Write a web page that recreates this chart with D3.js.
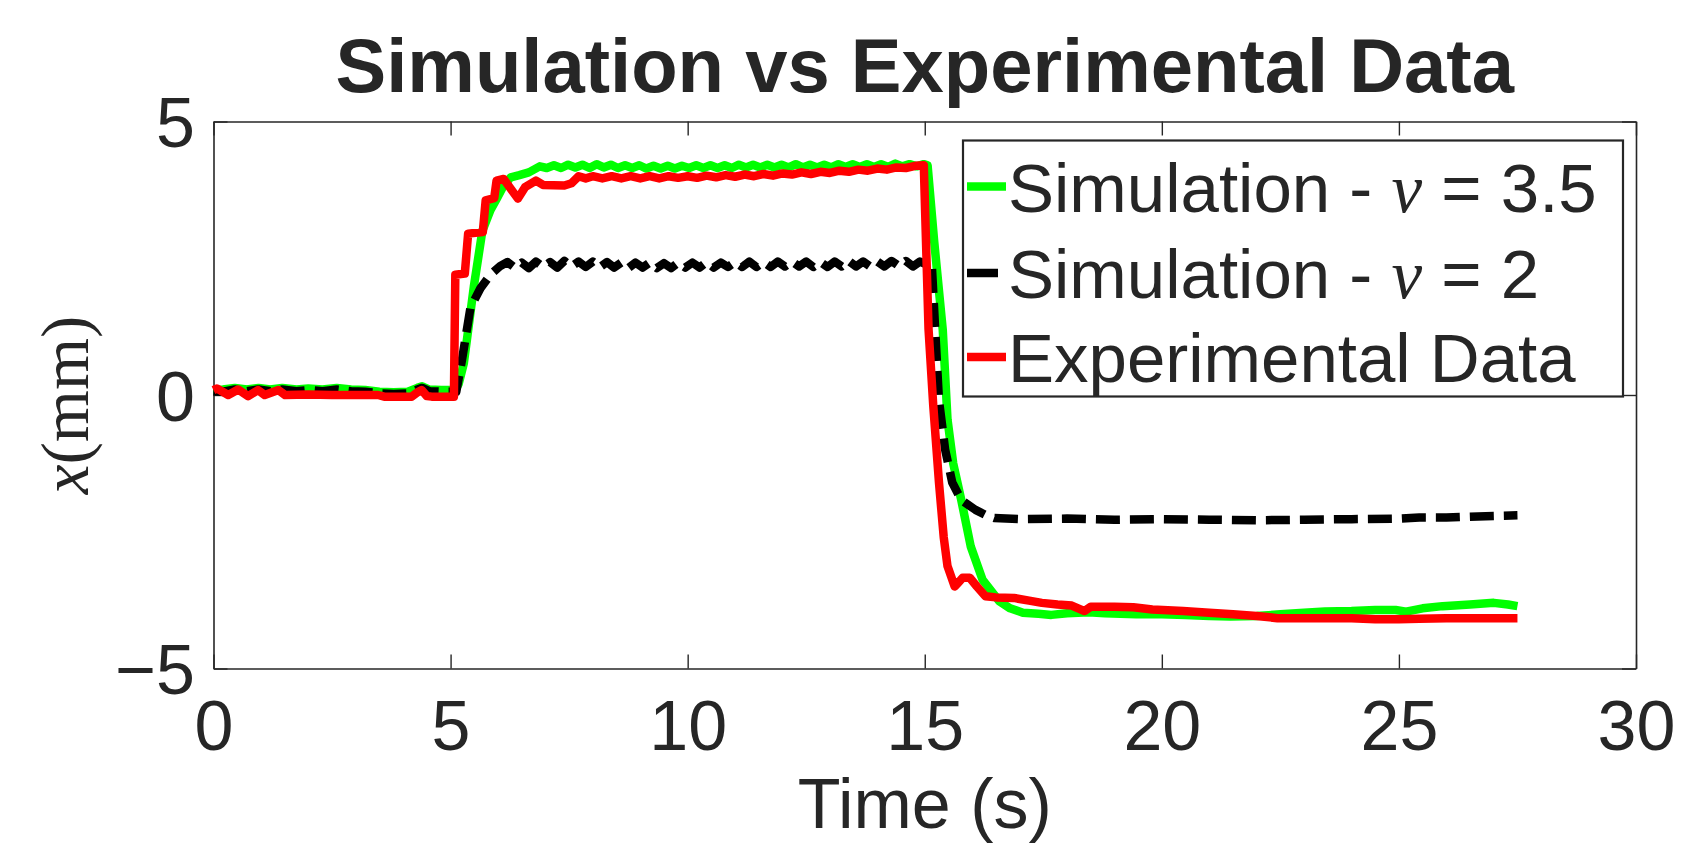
<!DOCTYPE html>
<html>
<head>
<meta charset="utf-8">
<script src="https://cdn.jsdelivr.net/npm/d3@7"></script>
<style>
  body { margin: 0; background: #fff; }
  svg { display: block; }
</style>
</head>
<body>
<div id="chart"></div>
<script>
// [time (s), x (mm)]
const sim35 = [
  [0,0.08],[0.2,0.1],[0.45,0.13],[0.7,0.1],[0.95,0.13],[1.2,0.1],[1.45,0.13],[1.75,0.1],[2.0,0.12],
  [2.3,0.1],[2.6,0.13],[2.9,0.1],[3.2,0.09],[3.5,0.06],[3.8,0.05],[4.1,0.06],[4.3,0.13],[4.4,0.16],
  [4.55,0.1],[4.8,0.09],[5.1,0.09],[5.17,0.2],[5.28,0.58],[5.49,1.98],[5.67,3.0],[5.84,3.38],
  [5.98,3.6],[6.12,3.83],[6.27,3.98],[6.45,4.02],[6.65,4.07],[6.88,4.18],
  [7.03,4.15],[7.18,4.2],[7.33,4.15],[7.48,4.21],[7.63,4.16],[7.78,4.21],[7.93,4.15],[8.08,4.22],
  [8.23,4.16],[8.38,4.21],[8.53,4.15],[8.68,4.2],[8.83,4.15],[8.98,4.2],[9.13,4.14],[9.28,4.19],
  [9.43,4.14],[9.58,4.19],[9.73,4.14],[9.88,4.19],[10.03,4.15],[10.18,4.2],[10.33,4.15],[10.48,4.2],
  [10.63,4.15],[10.78,4.2],[10.93,4.15],[11.08,4.21],[11.23,4.16],[11.38,4.21],[11.53,4.16],[11.68,4.21],
  [11.83,4.16],[11.98,4.21],[12.13,4.16],[12.28,4.22],[12.43,4.16],[12.58,4.21],[12.73,4.16],[12.88,4.21],
  [13.03,4.16],[13.18,4.22],[13.33,4.17],[13.48,4.22],[13.63,4.17],[13.78,4.22],[13.93,4.17],[14.08,4.22],
  [14.23,4.17],[14.38,4.23],[14.53,4.18],[14.68,4.22],[14.83,4.18],[14.98,4.22],[15.06,4.2],
  [15.2,2.8],[15.38,1.19],[15.48,-0.45],[15.6,-1.25],[15.77,-1.92],[15.97,-2.77],[16.22,-3.38],
  [16.57,-3.77],[16.8,-3.9],[17.07,-3.98],[17.4,-4.0],[17.67,-4.02],[18.0,-3.99],[18.46,-3.97],
  [18.8,-3.99],[19.46,-4.01],[20.0,-4.01],[20.5,-4.02],[21.0,-4.04],[21.45,-4.05],[22.0,-4.04],
  [22.5,-4.01],[23.0,-3.98],[23.44,-3.96],[24.0,-3.95],[24.5,-3.93],[24.93,-3.93],[25.15,-3.96],
  [25.5,-3.9],[25.92,-3.86],[26.5,-3.83],[27.0,-3.8],[27.3,-3.83],[27.5,-3.86]
];

const sim2 = [
  [0,0.07],[0.2,0.06],[0.45,0.1],[0.7,0.07],[0.95,0.1],[1.2,0.07],[1.45,0.1],[1.75,0.07],[2.0,0.09],
  [2.3,0.07],[2.6,0.1],[2.9,0.07],[3.2,0.06],[3.5,0.03],[3.8,0.02],[4.1,0.03],[4.3,0.1],[4.4,0.13],
  [4.55,0.07],[4.8,0.06],[5.12,0.06],[5.24,0.64],[5.42,1.6],[5.63,1.95],[5.84,2.2],[6.05,2.36],
  [6.2,2.43],[6.35,2.33],[6.5,2.42],[6.65,2.32],[6.8,2.44],[6.95,2.34],[7.1,2.43],[7.25,2.33],
  [7.4,2.45],[7.55,2.35],[7.7,2.44],[7.85,2.34],[8.0,2.44],[8.15,2.34],[8.3,2.43],[8.45,2.33],
  [8.6,2.42],[8.75,2.32],[8.9,2.42],[9.05,2.33],[9.2,2.42],[9.35,2.32],[9.5,2.41],[9.65,2.32],
  [9.8,2.42],[9.95,2.33],[10.1,2.42],[10.25,2.33],[10.4,2.43],[10.55,2.33],[10.7,2.42],[10.85,2.34],
  [11.0,2.43],[11.15,2.34],[11.3,2.44],[11.45,2.34],[11.6,2.43],[11.75,2.34],[11.9,2.44],[12.05,2.35],
  [12.2,2.44],[12.35,2.35],[12.5,2.44],[12.65,2.34],[12.8,2.43],[12.95,2.34],[13.1,2.44],[13.25,2.35],
  [13.4,2.45],[13.55,2.35],[13.7,2.44],[13.85,2.35],[14.0,2.44],[14.15,2.35],[14.3,2.45],[14.45,2.36],
  [14.6,2.45],[14.75,2.35],[14.9,2.44],[15.05,2.38],[15.15,2.36],
  [15.22,1.2],[15.3,-0.1],[15.43,-1.0],[15.58,-1.6],[15.77,-1.92],[16.07,-2.1],[16.3,-2.2],
  [16.47,-2.25],[17.0,-2.27],[18.0,-2.26],[19.0,-2.28],[20.0,-2.27],[21.0,-2.28],[22.0,-2.29],
  [23.0,-2.28],[24.0,-2.27],[25.0,-2.26],[25.43,-2.24],[26.0,-2.24],[27.0,-2.21],[27.5,-2.2]
];

const experimental = [
  [0,0.09],[0.07,0.12],[0.31,0.0],[0.52,0.1],[0.73,-0.02],[0.94,0.09],[1.08,0.0],[1.37,0.09],
  [1.51,0.0],[2.0,0.01],[2.5,0.0],[3.0,0.0],[3.47,0.0],[3.6,-0.03],[4.18,-0.03],[4.3,0.05],
  [4.39,0.09],[4.5,-0.02],[4.6,-0.03],[5.07,-0.03],[5.1,2.2],[5.3,2.22],[5.37,2.95],[5.68,2.98],
  [5.74,3.56],[5.92,3.6],[5.97,3.92],[6.12,3.95],[6.42,3.59],[6.57,3.8],[6.8,3.92],[6.95,3.84],
  [7.4,3.83],[7.55,3.87],[7.7,4.0],
  [7.85,3.96],[8.0,4.0],[8.2,3.96],[8.4,4.0],[8.6,3.96],[8.8,4.0],[9.0,3.96],[9.2,4.0],[9.4,3.96],
  [9.6,4.0],[9.8,3.97],[10.0,4.0],[10.2,3.97],[10.4,4.01],[10.6,3.98],[10.8,4.02],[11.0,3.99],
  [11.2,4.03],[11.4,4.0],[11.6,4.04],[11.8,4.01],[12.0,4.05],[12.2,4.03],[12.4,4.07],[12.6,4.04],
  [12.8,4.08],[13.0,4.06],[13.2,4.1],[13.4,4.08],[13.6,4.12],[13.8,4.1],[14.0,4.14],[14.2,4.12],
  [14.4,4.16],[14.6,4.15],[14.8,4.19],[14.98,4.2],
  [15.08,1.2],[15.18,-0.2],[15.3,-1.6],[15.4,-2.6],[15.48,-3.13],[15.63,-3.5],[15.72,-3.42],
  [15.8,-3.34],[15.95,-3.34],[16.1,-3.5],[16.28,-3.68],[16.5,-3.7],[16.88,-3.71],[17.2,-3.76],
  [17.47,-3.8],[17.8,-3.83],[18.1,-3.85],[18.37,-3.95],[18.5,-3.87],[19.0,-3.87],[19.4,-3.88],
  [19.8,-3.92],[20.45,-3.95],[21.0,-3.98],[21.5,-4.01],[22.0,-4.04],[22.44,-4.08],[23.0,-4.08],
  [24.0,-4.08],[24.5,-4.1],[25.0,-4.1],[25.43,-4.09],[26.0,-4.08],[27.0,-4.08],[27.5,-4.08]
];

const xTicks = [0, 5, 10, 15, 20, 25, 30];
const yTicks = [-5, 0, 5];
const legendLabels = [
  ["Simulation - ", "ν", " = 3.5"],
  ["Simulation - ", "ν", " = 2"],
  ["Experimental Data", "", ""]
];

class LineChart {
  constructor(_config) {
    this.config = {
      parentElement: _config.parentElement,
      containerWidth: 1691,
      containerHeight: 867,
      margin: { top: 121.5, right: 55, bottom: 198.5, left: 213.5 },
      sansFont: "'Liberation Sans', Arial, Helvetica, sans-serif",
      serifFont: "'Liberation Serif', 'Times New Roman', serif",
      axisColor: "#262626",
      lineWidth: 8.5
    };
    this.series = [
      { data: sim35, color: "#00ff00", dash: null },
      { data: sim2, color: "#000000", dash: "24,10" },
      { data: experimental, color: "#ff0000", dash: null }
    ];
    this.initVis();
  }

  initVis() {
    let vis = this;
    const m = vis.config.margin;
    vis.width = vis.config.containerWidth - m.left - m.right;
    vis.height = vis.config.containerHeight - m.top - m.bottom;

    vis.svg = d3.select(vis.config.parentElement).append("svg")
      .attr("width", vis.config.containerWidth)
      .attr("height", vis.config.containerHeight);

    vis.svg.append("rect")
      .attr("width", vis.config.containerWidth)
      .attr("height", vis.config.containerHeight)
      .attr("fill", "#fff");

    vis.g = vis.svg.append("g")
      .attr("transform", `translate(${m.left},${m.top})`);

    vis.xScale = d3.scaleLinear().domain([0, 30]).range([0, vis.width]);
    vis.yScale = d3.scaleLinear().domain([-5, 5]).range([vis.height, 0]);

    vis.line = d3.line()
      .x(d => vis.xScale(d[0]))
      .y(d => vis.yScale(d[1]));

    vis.drawAxes();
    vis.updateVis();
    vis.drawLegend();
  }

  drawAxes() {
    let vis = this;
    const c = vis.config;

    const styleAxis = (sel) => {
      sel.selectAll(".domain").attr("stroke", c.axisColor).attr("stroke-width", 1.6);
      sel.selectAll(".tick line").attr("stroke", c.axisColor).attr("stroke-width", 1.4);
      sel.selectAll("text")
        .attr("fill", c.axisColor)
        .style("font-family", c.sansFont)
        .style("font-size", "70px");
    };

    const xBottom = vis.g.append("g")
      .attr("transform", `translate(0,${vis.height})`)
      .call(d3.axisBottom(vis.xScale).tickValues(xTicks).tickSizeInner(-14).tickSizeOuter(0)
        .tickFormat(d3.format("d")));
    styleAxis(xBottom);
    xBottom.selectAll("text").attr("y", 81.5).attr("dy", null);

    const xTop = vis.g.append("g")
      .call(d3.axisTop(vis.xScale).tickValues(xTicks).tickSizeInner(-14).tickSizeOuter(0)
        .tickFormat(""));
    styleAxis(xTop);

    const yLeft = vis.g.append("g")
      .call(d3.axisLeft(vis.yScale).tickValues(yTicks).tickSizeInner(-14).tickSizeOuter(0)
        .tickFormat(d3.format("d")));
    styleAxis(yLeft);
    yLeft.selectAll("text").attr("x", -18.5).attr("dy", "0.357em");

    const yRight = vis.g.append("g")
      .attr("transform", `translate(${vis.width},0)`)
      .call(d3.axisRight(vis.yScale).tickValues(yTicks).tickSizeInner(-14).tickSizeOuter(0)
        .tickFormat(""));
    styleAxis(yRight);

    // axis titles
    vis.svg.append("text")
      .attr("x", c.margin.left + vis.width / 2)
      .attr("y", 828)
      .attr("text-anchor", "middle")
      .attr("fill", c.axisColor)
      .style("font-family", c.sansFont)
      .style("font-size", "70px")
      .text("Time (s)");

    const yLabel = vis.svg.append("text")
      .attr("transform", "translate(88,405) rotate(-90)")
      .attr("text-anchor", "middle")
      .attr("fill", c.axisColor)
      .style("font-family", c.serifFont)
      .style("font-size", "67px");
    yLabel.append("tspan").style("font-style", "italic").text("x");
    yLabel.append("tspan").text("(mm)");

    vis.svg.append("text")
      .attr("x", c.margin.left + vis.width / 2)
      .attr("y", 92)
      .attr("text-anchor", "middle")
      .attr("fill", c.axisColor)
      .style("font-family", c.sansFont)
      .style("font-size", "76px")
      .style("font-weight", "bold")
      .text("Simulation vs Experimental Data");
  }

  updateVis() {
    let vis = this;
    vis.g.selectAll(".series")
      .data(vis.series)
      .join("path")
      .attr("class", "series")
      .attr("d", d => vis.line(d.data))
      .attr("fill", "none")
      .attr("stroke", d => d.color)
      .attr("stroke-width", vis.config.lineWidth)
      .attr("stroke-linejoin", "round")
      .attr("stroke-dasharray", d => d.dash);
  }

  drawLegend() {
    let vis = this;
    const c = vis.config;
    const box = { x: 963, y: 140.5, w: 660, h: 256 };
    const rowY = [211.5, 298, 382];

    const legend = vis.svg.append("g").attr("class", "legend");
    legend.append("rect")
      .attr("x", box.x).attr("y", box.y)
      .attr("width", box.w).attr("height", box.h)
      .attr("fill", "#fff")
      .attr("stroke", c.axisColor)
      .attr("stroke-width", 2.2);

    vis.series.forEach((s, i) => {
      legend.append("line")
        .attr("x1", 967).attr("x2", 1006)
        .attr("y1", rowY[i] - 25).attr("y2", rowY[i] - 25)
        .attr("stroke", s.color)
        .attr("stroke-width", c.lineWidth)
        .attr("stroke-dasharray", s.dash ? "31,10" : null);

      const t = legend.append("text")
        .attr("x", 1008).attr("y", rowY[i])
        .attr("fill", c.axisColor)
        .style("font-family", c.sansFont)
        .style("font-size", "69px");
      const parts = legendLabels[i];
      t.append("tspan").text(parts[0]);
      if (parts[1]) {
        t.append("tspan")
          .style("font-family", c.serifFont)
          .style("font-style", "italic")
          .text(parts[1]);
        t.append("tspan").text(parts[2]);
      }
    });
  }
}

new LineChart({ parentElement: "#chart" });
</script>
</body>
</html>
